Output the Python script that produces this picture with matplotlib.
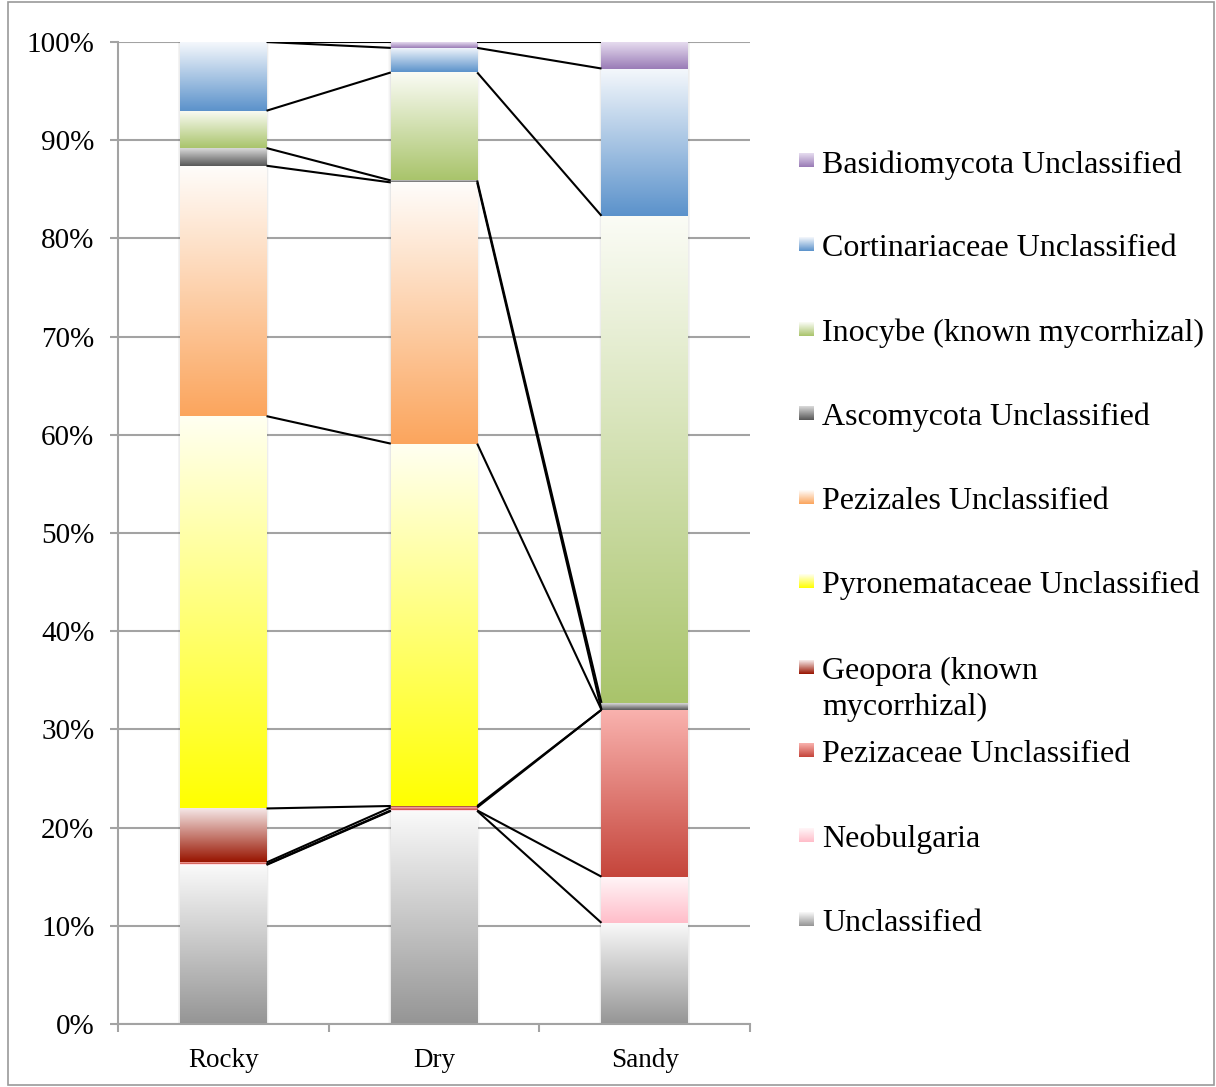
import numpy as np
import matplotlib.pyplot as plt
from matplotlib.colors import LinearSegmentedColormap
from matplotlib.patches import Rectangle

# relative abundance (%) per site, series stacked bottom -> top
sites = ["Rocky", "Dry", "Sandy"]
unclassified = [16.2, 21.7, 10.3]
neobulgaria = [0.05, 0.05, 4.7]
pezizaceae = [0.2, 0.3, 17.0]
geopora = [5.5, 0.15, 0.0]
pyronemataceae = [39.95, 36.9, 0.0]
pezizales = [25.5, 26.6, 0.0]
ascomycota = [1.8, 0.2, 0.7]
inocybe = [3.8, 11.0, 49.6]
cortinariaceae = [7.0, 2.5, 15.0]
basidiomycota = [0.0, 0.6, 2.7]

series = [unclassified, neobulgaria, pezizaceae, geopora, pyronemataceae,
          pezizales, ascomycota, inocybe, cortinariaceae, basidiomycota]
labels = ["Unclassified", "Neobulgaria", "Pezizaceae Unclassified",
          "Geopora (known\nmycorrhizal)", "Pyronemataceae Unclassified",
          "Pezizales Unclassified", "Ascomycota Unclassified",
          "Inocybe (known mycorrhizal)", "Cortinariaceae Unclassified",
          "Basidiomycota Unclassified"]
# gradient (top colour, bottom colour)
grads = [("#fafafa", "#959595"), ("#fff6f8", "#ffbdc9"),
         ("#f9b2ae", "#c5453b"), ("#f7ecec", "#981400"),
         ("#fffff2", "#ffff00"), ("#fffdfb", "#fba55d"),
         ("#dadada", "#575757"), ("#fbfcf6", "#a9c46b"),
         ("#f5f8fc", "#5b92cb"), ("#e6dcef", "#997bb6")]

W, H = 1216, 1087
fig = plt.figure(figsize=(W / 100, H / 100), dpi=100)
ax = fig.add_axes([118 / W, 63 / H, 632 / W, 982 / H])

x = np.arange(len(sites))
width = 0.41
grid_c = "#a3a3a3"

ax.set_xlim(-0.5, 2.5)
ax.set_ylim(0, 100)
ax.set_yticks(np.arange(0, 101, 10))
ax.set_yticklabels([f"{v}%" for v in range(0, 101, 10)],
                   fontsize=21, family="Liberation Serif")
ax.yaxis.grid(True, color=grid_c, lw=1.5, zorder=0)
ax.set_xticks(x)
ax.set_xticklabels(sites, fontsize=19.5, family="Liberation Serif")
ax.set_xticks([-0.5, 0.5, 1.5, 2.5], minor=True)
ax.tick_params(axis="x", which="major", length=0, pad=17)
ax.tick_params(axis="x", which="minor", length=6, color=grid_c, width=1.5)
ax.tick_params(axis="y", length=6, color=grid_c, width=1.5, pad=11)
for s in ["top", "right"]:
    ax.spines[s].set_visible(False)
for s in ["left", "bottom"]:
    ax.spines[s].set_color(grid_c)
    ax.spines[s].set_linewidth(1.5)
ax.set_axisbelow(True)

# soft shadow around each column
px = 3.0 / 632
for xi in x:
    for k in range(1, 5):
        ax.add_patch(Rectangle((xi - width / 2 - k * px * 0.6, 0),
                               width + 2 * k * px * 0.6, 100,
                               color="#000000", alpha=0.025, lw=0, zorder=1))

bottom = np.zeros(len(sites))
tops = []
for vals, (c_top, c_bot) in zip(series, grads):
    vals = np.array(vals)
    bars = ax.bar(x, vals, width, bottom=bottom, color="none", lw=0, zorder=2)
    cmap = LinearSegmentedColormap.from_list("g", [c_bot, c_top])
    grad = np.linspace(0, 1, 256).reshape(-1, 1)
    for b in bars:
        if b.get_height() <= 0:
            continue
        x0, y0 = b.get_x(), b.get_y()
        ax.imshow(grad, cmap=cmap, aspect="auto", origin="lower",
                  extent=(x0, x0 + b.get_width(), y0, y0 + b.get_height()),
                  zorder=2, interpolation="bicubic")
    bottom = bottom + vals
    tops.append(bottom.copy())

# series lines between neighbouring columns
for t in tops:
    for j in range(len(sites) - 1):
        ax.plot([x[j] + width / 2, x[j + 1] - width / 2], [t[j], t[j + 1]],
                color="black", lw=1.5, zorder=3, solid_capstyle="butt")

ax.set_xlim(-0.5, 2.5)
ax.set_ylim(0, 100)

# legend drawn in pixel space on the right
lg = fig.add_axes([0, 0, 1, 1], zorder=5)
lg.set_xlim(0, W)
lg.set_ylim(H, 0)
lg.axis("off")
legend_y = [920, 836, 751, 668, 582, 498, 414, 330, 245, 161]
grad = np.linspace(0, 1, 64).reshape(-1, 1)
for lab, (c_top, c_bot), yy in zip(labels, grads, legend_y):
    cmap = LinearSegmentedColormap.from_list("g", [c_top, c_bot])
    lg.imshow(grad, cmap=cmap, aspect="auto", origin="upper",
              extent=(799, 814, yy + 6, yy - 8))
    lg.text(822, yy - 11, lab, fontsize=23, family="Liberation Serif",
            va="top", ha="left", linespacing=1.3)

# chart border
lg.add_patch(Rectangle((8, 2), 1206, 1083, fill=False, ec="#9a9a9a", lw=1.2))

fig.savefig("out.png", dpi=100)
